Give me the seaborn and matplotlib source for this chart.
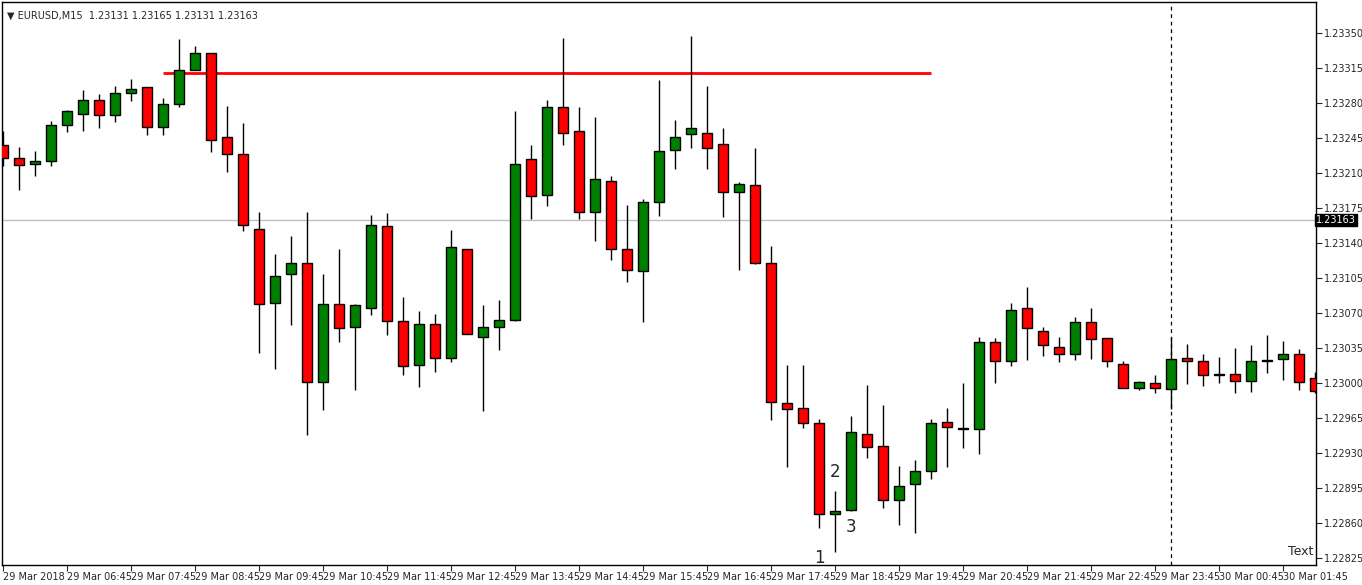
import numpy as np
import matplotlib
matplotlib.use("Agg")
import matplotlib.pyplot as plt
import seaborn as sns

# EURUSD M15 candles (open, high, low, close)
opens = [1.23238, 1.23225, 1.23219, 1.23222, 1.23258, 1.23269, 1.23283, 1.23268, 1.23290, 1.23296,
         1.23256, 1.23279, 1.23313, 1.23330, 1.23246, 1.23229, 1.23154, 1.23080, 1.23109, 1.23120,
         1.23001, 1.23079, 1.23056, 1.23075, 1.23157, 1.23062, 1.23018, 1.23059, 1.23025, 1.23134,
         1.23046, 1.23056, 1.23063, 1.23224, 1.23188, 1.23276, 1.23252, 1.23171, 1.23202, 1.23134,
         1.23112, 1.23181, 1.23233, 1.23249, 1.23250, 1.23239, 1.23191, 1.23198, 1.23120, 1.22980,
         1.22975, 1.22960, 1.22869, 1.22873, 1.22949, 1.22937, 1.22883, 1.22899, 1.22912, 1.22961,
         1.22954, 1.22954, 1.23041, 1.23022, 1.23075, 1.23052, 1.23036, 1.23029, 1.23061, 1.23045,
         1.23019, 1.22995, 1.23000, 1.22994, 1.23025, 1.23022, 1.23008, 1.23009, 1.23002, 1.23022,
         1.23024, 1.23029, 1.23005]
highs = [1.23252, 1.23236, 1.23232, 1.23262, 1.23273, 1.23293, 1.23289, 1.23297, 1.23304, 1.23296,
         1.23285, 1.23344, 1.23337, 1.23330, 1.23277, 1.23260, 1.23171, 1.23129, 1.23147, 1.23171,
         1.23109, 1.23134, 1.23079, 1.23168, 1.23170, 1.23086, 1.23072, 1.23069, 1.23153, 1.23134,
         1.23078, 1.23083, 1.23272, 1.23238, 1.23283, 1.23345, 1.23276, 1.23266, 1.23207, 1.23178,
         1.23184, 1.23303, 1.23263, 1.23347, 1.23297, 1.23255, 1.23201, 1.23235, 1.23137, 1.23018,
         1.23018, 1.22964, 1.22892, 1.22967, 1.22998, 1.22978, 1.22917, 1.22923, 1.22964, 1.22975,
         1.23000, 1.23046, 1.23045, 1.23080, 1.23096, 1.23056, 1.23046, 1.23066, 1.23075, 1.23045,
         1.23022, 1.23002, 1.23008, 1.23046, 1.23039, 1.23029, 1.23026, 1.23035, 1.23038, 1.23048,
         1.23042, 1.23034, 1.23011]
lows = [1.23217, 1.23193, 1.23207, 1.23217, 1.23251, 1.23252, 1.23255, 1.23261, 1.23282, 1.23248,
        1.23248, 1.23276, 1.23313, 1.23231, 1.23211, 1.23152, 1.23030, 1.23014, 1.23058, 1.22948,
        1.22973, 1.23041, 1.22993, 1.23068, 1.23048, 1.23008, 1.22996, 1.23011, 1.23021, 1.23049,
        1.22972, 1.23033, 1.23062, 1.23164, 1.23177, 1.23238, 1.23164, 1.23142, 1.23123, 1.23101,
        1.23061, 1.23167, 1.23214, 1.23235, 1.23214, 1.23166, 1.23113, 1.23119, 1.22963, 1.22916,
        1.22955, 1.22855, 1.22831, 1.22872, 1.22925, 1.22875, 1.22858, 1.22850, 1.22904, 1.22916,
        1.22935, 1.22929, 1.23000, 1.23017, 1.23023, 1.23027, 1.23021, 1.23023, 1.23024, 1.23016,
        1.22995, 1.22993, 1.22990, 1.22974, 1.22999, 1.22997, 1.23000, 1.22990, 1.22991, 1.23010,
        1.23003, 1.22993, 1.22990]
closes = [1.23225, 1.23218, 1.23222, 1.23258, 1.23272, 1.23283, 1.23268, 1.23290, 1.23294, 1.23256,
          1.23279, 1.23313, 1.23330, 1.23243, 1.23229, 1.23158, 1.23079, 1.23107, 1.23120, 1.23001,
          1.23079, 1.23055, 1.23078, 1.23158, 1.23062, 1.23017, 1.23059, 1.23025, 1.23136, 1.23049,
          1.23056, 1.23063, 1.23219, 1.23187, 1.23276, 1.23250, 1.23171, 1.23204, 1.23134, 1.23113,
          1.23181, 1.23232, 1.23246, 1.23255, 1.23235, 1.23191, 1.23199, 1.23120, 1.22981, 1.22974,
          1.22960, 1.22869, 1.22872, 1.22951, 1.22936, 1.22883, 1.22897, 1.22912, 1.22960, 1.22956,
          1.22954, 1.23041, 1.23022, 1.23073, 1.23055, 1.23038, 1.23029, 1.23061, 1.23044, 1.23022,
          1.22995, 1.23001, 1.22995, 1.23024, 1.23022, 1.23008, 1.23008, 1.23002, 1.23022, 1.23022,
          1.23029, 1.23001, 1.22992]

time_labels = ["29 Mar 2018", "29 Mar 06:45", "29 Mar 07:45", "29 Mar 08:45", "29 Mar 09:45",
               "29 Mar 10:45", "29 Mar 11:45", "29 Mar 12:45", "29 Mar 13:45", "29 Mar 14:45",
               "29 Mar 15:45", "29 Mar 16:45", "29 Mar 17:45", "29 Mar 18:45", "29 Mar 19:45",
               "29 Mar 20:45", "29 Mar 21:45", "29 Mar 22:45", "29 Mar 23:45", "30 Mar 00:45",
               "30 Mar 01:45"]
price_ticks = [1.23350, 1.23315, 1.23280, 1.23245, 1.23210, 1.23175, 1.23140, 1.23105, 1.23070,
               1.23035, 1.23000, 1.22965, 1.22930, 1.22895, 1.22860, 1.22825]
resistance = 1.23310
resistance_span = (10, 58)
current_price = 1.23163
session_bar = 73
wave_marks = [(51, "1"), (52, "2"), (53, "3")]

sns.set_theme(style="white")
plt.rcParams["font.family"] = ["DejaVu Sans"]

o = np.array(opens); h = np.array(highs); l = np.array(lows); c = np.array(closes)
idx = np.arange(len(o))
up = c >= o

fig = plt.figure(figsize=(13.62, 5.85), dpi=100)
ax = fig.add_axes([2 / 1362, 20 / 585, 1314 / 1362, 563 / 585])

ax.axhline(current_price, color="#c0c0c0", lw=1, zorder=0)
ax.axvline(session_bar, color="black", lw=0.9, ls=(0, (3, 3)), zorder=0)
ax.hlines(resistance, *resistance_span, color="red", lw=2, zorder=1)

ax.vlines(idx, l, h, color="black", lw=1, zorder=2)
bottoms = np.minimum(o, c)
heights = np.maximum(np.abs(c - o), 0.000008)
colors = np.where(up, "#008000", "#ff0000")
ax.bar(idx, heights, bottom=bottoms, width=0.62, color=colors, edgecolor="black",
       linewidth=1, zorder=3)
doji = np.abs(c - o) < 0.000005
ax.hlines(c[doji], idx[doji] - 0.31, idx[doji] + 0.31, color="black", lw=1.2, zorder=4)

ax.text(51, 1.22831 - 0.00006, "1", ha="center", va="center", fontsize=12)
ax.text(52, 1.22892 + 0.00019, "2", ha="center", va="center", fontsize=12)
ax.text(53, 1.22872 - 0.00016, "3", ha="center", va="center", fontsize=12)

ax.set_xlim(-0.0625, 82.06)
ax.set_ylim(1.22818, 1.23381)

ax.yaxis.tick_right()
ax.set_yticks(price_ticks)
ax.set_yticklabels([f"{p:.5f}" for p in price_ticks], fontsize=7)
ax.tick_params(axis="y", direction="out", length=4, width=0.8, pad=2, right=True, left=False)
ax.set_xticks(np.arange(0, len(time_labels) * 4, 4))
ax.set_xticklabels(time_labels, fontsize=7, ha="left")
ax.tick_params(axis="x", direction="out", length=4, width=0.8, pad=1, bottom=True)
for side in ax.spines.values():
    side.set_color("black")
    side.set_linewidth(1)

ax.text(1.0, current_price, "1.23163", transform=ax.get_yaxis_transform(), ha="left",
        va="center", fontsize=7, color="white",
        bbox=dict(boxstyle="square,pad=0.15", fc="black", ec="black"))

ax.text(0.004, 0.985, "\u25bc EURUSD,M15  1.23131 1.23165 1.23131 1.23163",
        transform=ax.transAxes, fontsize=7, va="top", ha="left")
ax.text(0.998, 0.012, "Text", transform=ax.transAxes, fontsize=9, ha="right", va="bottom")

fig.savefig("out.png", dpi=100, facecolor="white")
